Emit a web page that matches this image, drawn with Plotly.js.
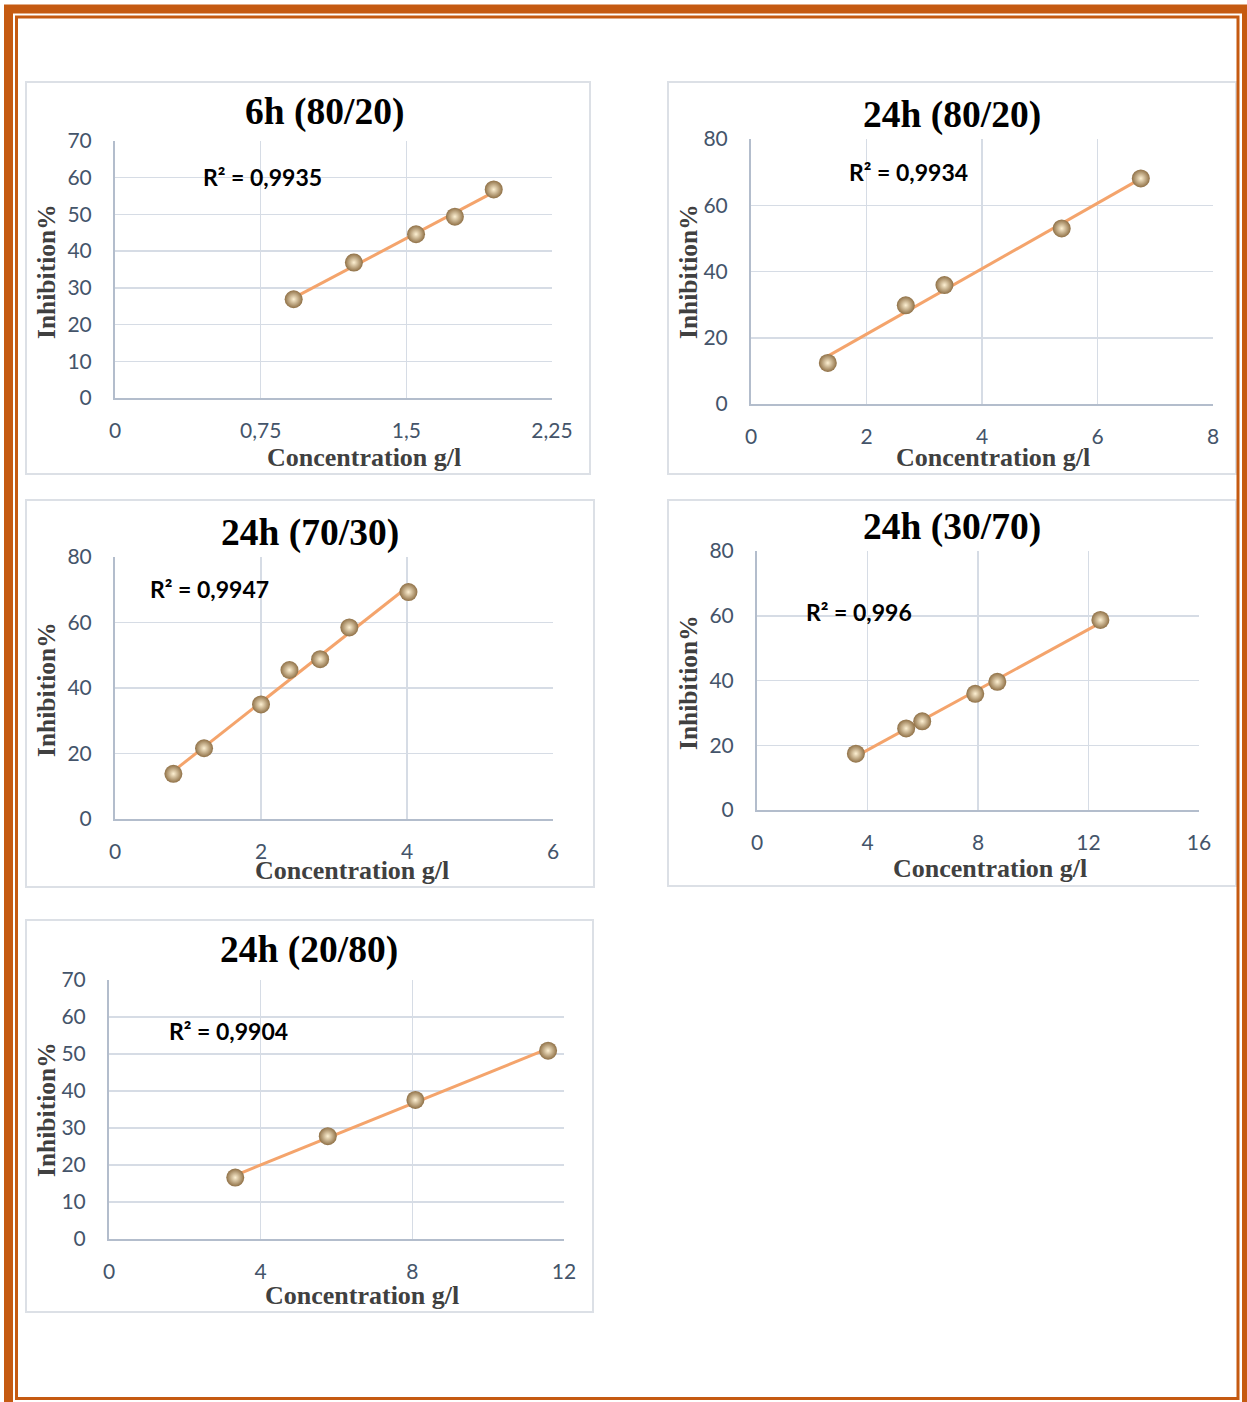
<!DOCTYPE html>
<html>
<head>
<meta charset="utf-8">
<script src="https://cdn.plot.ly/plotly-3.0.1.min.js"></script>
<style>
html,body{margin:0;padding:0;background:#fff;}
#chart{width:1247px;height:1402px;}
</style>
</head>
<body>
<div id="chart"></div>
<script>
// ---- data ----
const titles = ["6h (80/20)", "24h (80/20)", "24h (70/30)", "24h (30/70)", "24h (20/80)"];
const r2Labels = ["R² = 0,9935", "R² = 0,9934", "R² = 0,9947", "R² = 0,996", "R² = 0,9904"];

const conc6h8020 = [0.92, 1.23, 1.55, 1.75, 1.95];
const inhib6h8020 = [26.9, 36.9, 44.6, 49.4, 56.8];

const conc24h8020 = [1.33, 2.68, 3.35, 5.38, 6.75];
const inhib24h8020 = [12.4, 29.8, 35.9, 53.0, 68.1];

const conc24h7030 = [0.80, 1.22, 2.0, 2.39, 2.81, 3.21, 4.02];
const inhib24h7030 = [13.8, 21.6, 35.0, 45.5, 48.8, 58.5, 69.3];

const conc24h3070 = [3.58, 5.4, 5.98, 7.9, 8.7, 12.43];
const inhib24h3070 = [17.4, 25.2, 27.4, 35.9, 39.6, 58.7];

const conc24h2080 = [3.33, 5.77, 8.08, 11.58];
const inhib24h2080 = [16.6, 27.8, 37.6, 50.9];

const xRanges = [[0, 2.25], [0, 8], [0, 6], [0, 16], [0, 12]];
const xTickSteps = [0.75, 2, 2, 4, 4];
const yRanges = [[0, 70], [0, 80], [0, 80], [0, 80], [0, 70]];
const yTickSteps = [10, 20, 20, 20, 10];

const xTitle = "Concentration g/l";
const yTitle = "Inhibition%";

// ---- layout geometry (pixels) ----
const W = 1247, H = 1402;
const X = p => p / W;
const Y = p => 1 - p / H;

const series = [
  [conc6h8020, inhib6h8020],
  [conc24h8020, inhib24h8020],
  [conc24h7030, inhib24h7030],
  [conc24h3070, inhib24h3070],
  [conc24h2080, inhib24h2080]
];

// plot areas [left, right, top, bottom]
const plotBoxes = [
  [115, 552, 141, 398],
  [751, 1213, 139, 404],
  [115, 553, 557, 819],
  [757, 1199, 551, 810],
  [109, 564, 980, 1239]
];
// panel frames
const panelBoxes = [
  [26, 590, 82, 474],
  [668, 1236, 82, 474],
  [26, 594, 500, 887],
  [668, 1236, 500, 886],
  [26, 593, 920, 1312]
];
const titlePos = [[324, 112], [952, 115], [310, 533], [952, 527], [309, 950]];
const xTitlePos = [[364, 457], [993, 457], [352, 870], [990, 868], [362, 1295]];
const yTitlePos = [[46, 272], [688, 272], [46, 690], [688, 683], [46, 1110]];
const r2Pos = [[201, 177], [847, 172], [148, 589], [804, 612], [167, 1031]];

function fit(xs, ys) {
  const n = xs.length;
  let sx = 0, sy = 0, sxx = 0, sxy = 0;
  for (let i = 0; i < n; i++) { sx += xs[i]; sy += ys[i]; sxx += xs[i]*xs[i]; sxy += xs[i]*ys[i]; }
  const b = (n*sxy - sx*sy) / (n*sxx - sx*sx);
  const a = (sy - b*sx) / n;
  return [a, b];
}

const traces = [];
const layout = {
  width: W, height: H,
  margin: {l: 0, r: 0, t: 0, b: 0},
  paper_bgcolor: '#ffffff',
  plot_bgcolor: '#ffffff',
  showlegend: false,
  separators: ', ',
  font: {family: 'Lato, "Open Sans", sans-serif', color: '#44546A'},
  annotations: [],
  shapes: []
};

const tickFont = {family: 'Lato, sans-serif', size: 21, color: '#44546A'};

series.forEach((s, i) => {
  const k = i === 0 ? '' : String(i + 1);
  const xs = s[0], ys = s[1];
  const [a, b] = fit(xs, ys);
  const xmin = Math.min(...xs), xmax = Math.max(...xs);
  traces.push({
    x: [xmin, xmax], y: [a + b*xmin, a + b*xmax],
    type: 'scatter', mode: 'lines',
    line: {color: '#F4A46C', width: 3},
    xaxis: 'x' + k, yaxis: 'y' + k, hoverinfo: 'skip'
  });
  traces.push({
    x: xs, y: ys, type: 'scatter', mode: 'markers',
    marker: {
      size: 18, color: '#8F7046',
      gradient: {type: 'radial', color: '#FDF0D2'},
      line: {width: 0}
    },
    xaxis: 'x' + k, yaxis: 'y' + k
  });
  const pb = plotBoxes[i];
  layout['xaxis' + k] = {
    domain: [X(pb[0]), X(pb[1])],
    range: xRanges[i], anchor: 'y' + k,
    tick0: 0, dtick: xTickSteps[i],
    showgrid: true, gridcolor: '#D6DCE5', gridwidth: 1.5,
    zeroline: false, showline: true, linecolor: '#B3BDCC', linewidth: 2,
    ticks: 'outside', ticklen: 13, tickcolor: 'rgba(0,0,0,0)',
    tickfont: tickFont, fixedrange: true
  };
  layout['yaxis' + k] = {
    domain: [Y(pb[3]), Y(pb[2])],
    range: yRanges[i], anchor: 'x' + k,
    tick0: 0, dtick: yTickSteps[i],
    showgrid: true, gridcolor: '#D6DCE5', gridwidth: 1.5,
    zeroline: false, showline: true, linecolor: '#B3BDCC', linewidth: 2,
    ticks: 'outside', ticklen: 17, tickcolor: 'rgba(0,0,0,0)',
    tickfont: tickFont, fixedrange: true
  };
  // panel frame
  const bx = panelBoxes[i];
  layout.shapes.push({
    type: 'rect', xref: 'paper', yref: 'paper',
    x0: X(bx[0]), x1: X(bx[1]), y0: Y(bx[3]), y1: Y(bx[2]),
    line: {color: '#DCE0E6', width: 2}, fillcolor: 'rgba(0,0,0,0)', layer: 'below'
  });
  layout.annotations.push({
    xref: 'paper', yref: 'paper', x: X(titlePos[i][0]), y: Y(titlePos[i][1]),
    text: '<b>' + titles[i] + '</b>', showarrow: false,
    xanchor: 'center', yanchor: 'middle',
    font: {family: '"Liberation Serif", "Times New Roman", serif', size: 37.5, color: '#000000'}
  });
  layout.annotations.push({
    xref: 'paper', yref: 'paper', x: X(xTitlePos[i][0]), y: Y(xTitlePos[i][1]),
    text: '<b>' + xTitle + '</b>', showarrow: false,
    xanchor: 'center', yanchor: 'middle',
    font: {family: '"Liberation Serif", "Times New Roman", serif', size: 26, color: '#404040'}
  });
  layout.annotations.push({
    xref: 'paper', yref: 'paper', x: X(yTitlePos[i][0]), y: Y(yTitlePos[i][1]),
    text: '<b>' + yTitle + '</b>', showarrow: false, textangle: -90,
    xanchor: 'center', yanchor: 'middle',
    font: {family: '"Liberation Serif", "Times New Roman", serif', size: 25.5, color: '#404040'}
  });
  layout.annotations.push({
    xref: 'paper', yref: 'paper', x: X(r2Pos[i][0]), y: Y(r2Pos[i][1]),
    text: '<b>' + r2Labels[i] + '</b>', showarrow: false,
    xanchor: 'left', yanchor: 'middle',
    font: {family: 'Lato, sans-serif', size: 23, color: '#000000'}
  });
});

// orange double frame
layout.shapes.push({
  type: 'rect', xref: 'paper', yref: 'paper',
  x0: X(8.5), x1: X(1246.5), y0: Y(1408), y1: Y(9),
  line: {color: '#C55A11', width: 9}, fillcolor: 'rgba(0,0,0,0)'
});
layout.shapes.push({
  type: 'rect', xref: 'paper', yref: 'paper',
  x0: X(16.5), x1: X(1238), y0: Y(1398.5), y1: Y(17),
  line: {color: '#C55A11', width: 3}, fillcolor: 'rgba(0,0,0,0)'
});

Plotly.newPlot('chart', traces, layout, {staticPlot: true, displayModeBar: false});
</script>
</body>
</html>
